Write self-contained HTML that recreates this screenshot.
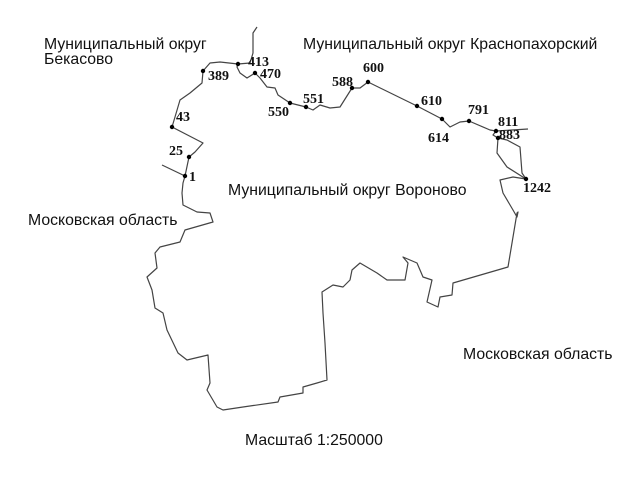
<!DOCTYPE html>
<html><head><meta charset="utf-8"><style>
body{margin:0;background:#fff;}
svg{display:block}
.t{font-family:"Liberation Sans",Arial,sans-serif;font-size:15.8px;fill:#111}
.n{font-family:"Liberation Serif",serif;font-size:14px;font-weight:bold;fill:#111}
</style></head><body>
<svg width="642" height="478" viewBox="0 0 642 478" xmlns="http://www.w3.org/2000/svg">
<g fill="none" stroke="#444" stroke-width="1.2" stroke-linejoin="round">
<polyline points="185,176 189,157 195,152 203,143 172,127 175,117 180,100 190,93 202,83 203,71 210,63 220,62 238,64 237,67 240,73 247,78 255,73 260,78 267,87 275,88 278,95 290,103 306,107 313,110 320,105 330,108 340,107 352,88 360,88 368,82 417,106 442,119 450,127 460,122 469,121 490,130 496,131 493,135 498,138 497,153 507,167 526,179 513,177 500,180 503,193 513,210 517,217 518,212 517,213 508,267 453,283 452,295 440,297 438,307 427,302 432,280 423,277 417,263 403,257 408,263 405,280 387,280 377,273 360,263 352,270 350,280 343,287 333,285 322,292 323,313 325,343 327,380 317,383 303,387 303,393 280,397 278,402 243,407 223,410 217,407 207,390 210,383 208,355 187,360 178,353 167,330 163,313 155,308 152,290 147,277 157,268 155,253 160,247 180,242 185,230 213,222 210,213 197,212 183,205 182,193 183,183 185,176"/>
<polyline points="162,165 185,176"/>
<polyline points="496,131 528,129"/>
<polyline points="498,138 507,140 520,147 522,173 526,179"/>
<polyline points="238,64 250,63 253,53 253,33 257,27"/>
</g>
<g fill="#000">
<circle cx="185" cy="176" r="2.2"/><circle cx="189" cy="157" r="2.2"/><circle cx="172" cy="127" r="2.2"/>
<circle cx="203" cy="71" r="2.2"/><circle cx="238" cy="64" r="2.2"/><circle cx="255" cy="73" r="2.2"/>
<circle cx="290" cy="103" r="2.2"/><circle cx="306" cy="107" r="2.2"/><circle cx="352" cy="88" r="2.2"/>
<circle cx="368" cy="82" r="2.2"/><circle cx="417" cy="106" r="2.2"/><circle cx="442" cy="119" r="2.2"/>
<circle cx="469" cy="121" r="2.2"/><circle cx="496" cy="131" r="2.2"/><circle cx="498" cy="138" r="2.2"/>
<circle cx="526" cy="179" r="2.2"/>
</g>
<g class="n">
<text x="189" y="181">1</text><text x="169" y="155">25</text><text x="176" y="121">43</text>
<text x="208" y="80">389</text><text x="248" y="66">413</text><text x="260" y="78">470</text>
<text x="268" y="116">550</text><text x="303" y="103">551</text><text x="332" y="86">588</text>
<text x="363" y="72">600</text><text x="421" y="105">610</text><text x="428" y="142">614</text>
<text x="468" y="114">791</text><text x="498" y="126">811</text><text x="499" y="139">883</text>
<text x="523" y="192">1242</text>
</g>
<g class="t">
<text x="44" y="49">Муниципальный округ</text>
<text x="44" y="64">Бекасово</text>
<text x="303" y="49">Муниципальный округ Краснопахорский</text>
<text x="28" y="225">Московская область</text>
<text x="228" y="195">Муниципальный округ Вороново</text>
<text x="463" y="359">Московская область</text>
<text x="245" y="445">Масштаб 1:250000</text>
</g>
</svg>
</body></html>
